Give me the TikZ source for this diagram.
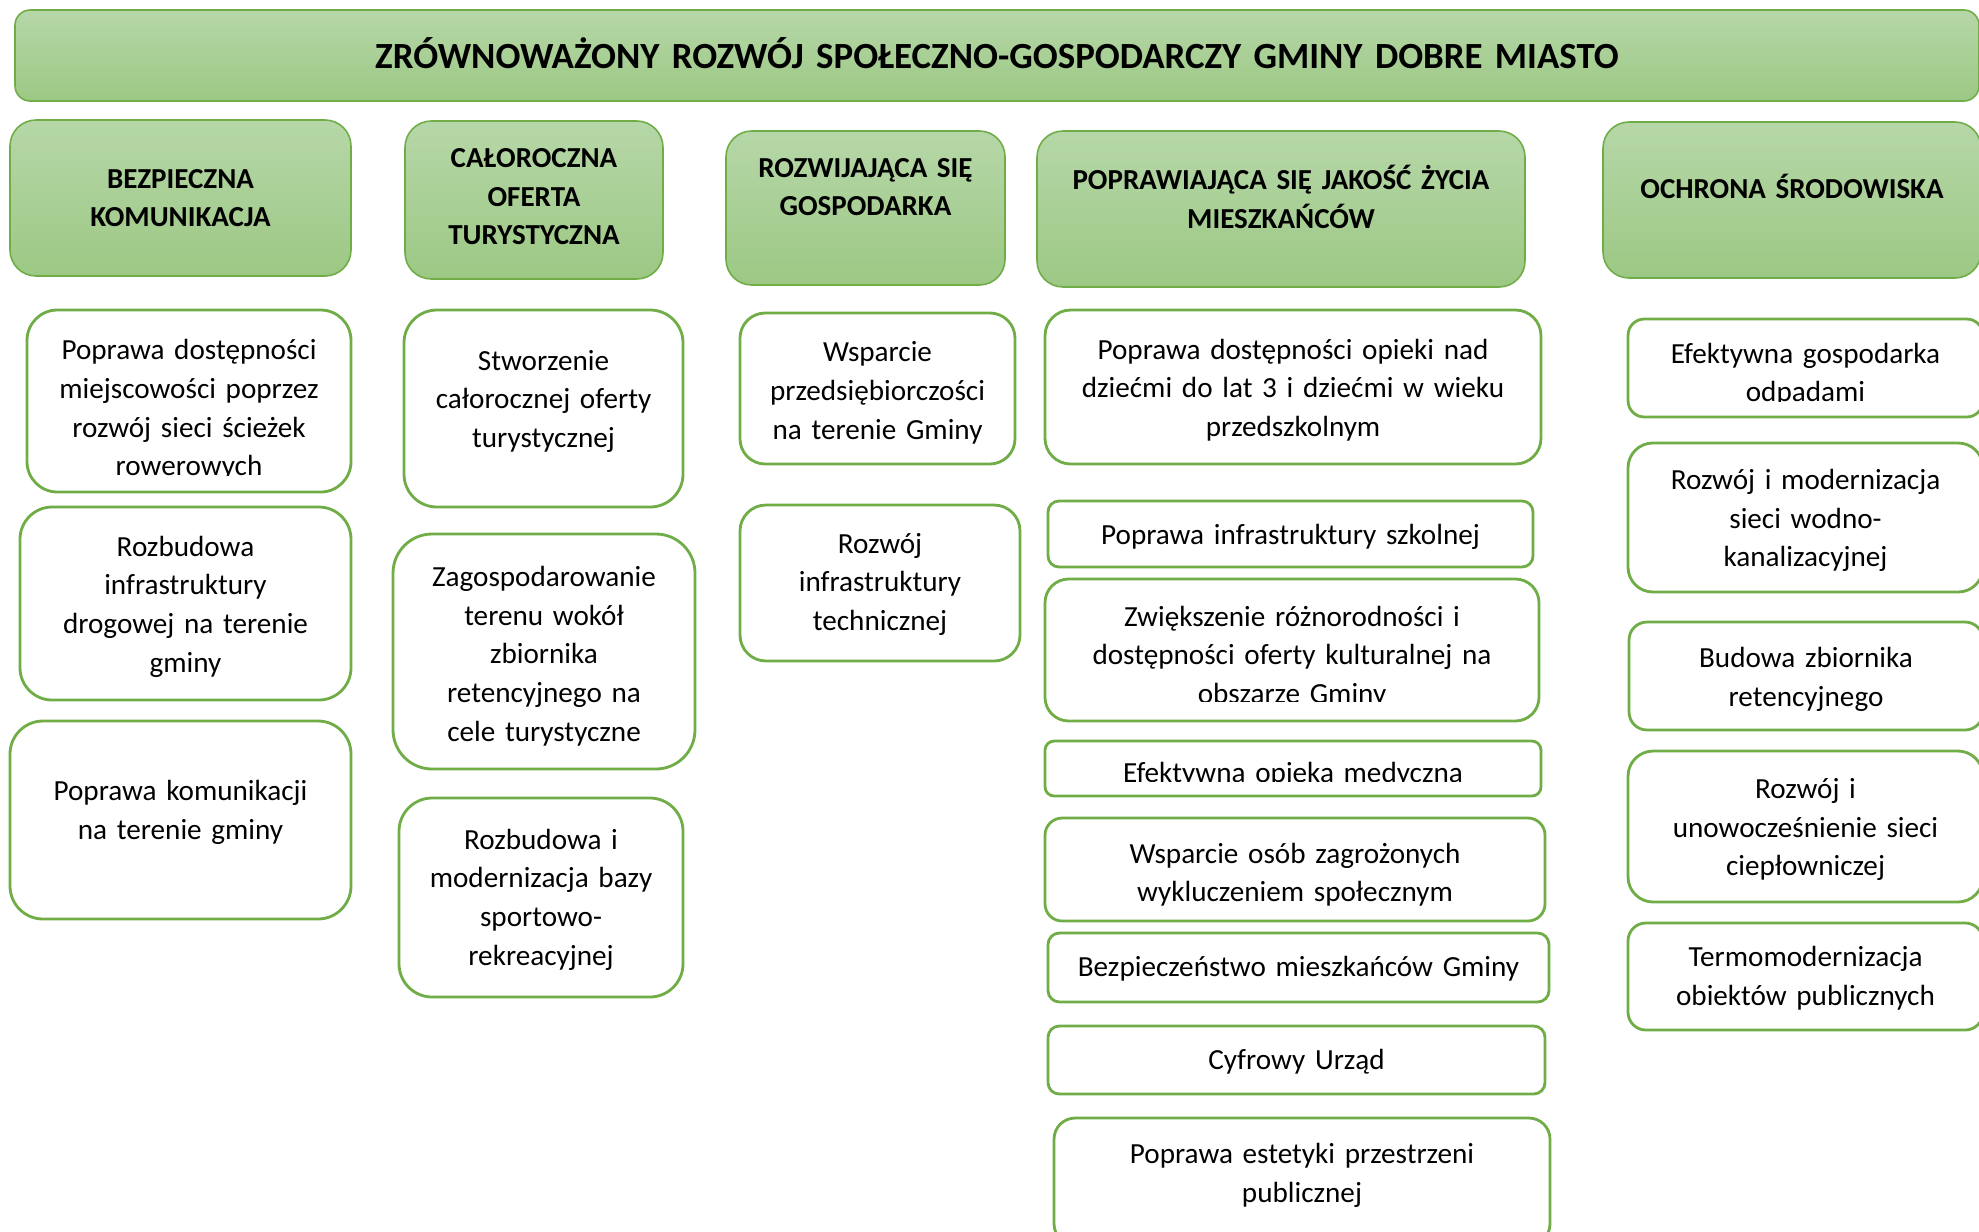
\documentclass[tikz,border=0pt]{standalone}
\usepackage{fontspec}
\setmainfont{Carlito}
\usetikzlibrary{positioning}

\definecolor{greenline}{HTML}{70AD47}
\definecolor{greentop}{HTML}{B6D7A8}
\definecolor{greenbot}{HTML}{9CC884}

\tikzset{
  sz/.code 2 args={%
    \pgfmathsetmacro\bw{#1/10}%
    \pgfmathsetmacro\bh{#2/10}%
    \pgfmathsetmacro\tw{(#1-24)/10}%
    \pgfmathsetmacro\rr{min(#1,#2)/60}%
    \edef\tmp{\noexpand\tikzset{minimum width=\bw mm,minimum height=\bh mm,
      text width=\tw mm,rounded corners=\rr mm}}\tmp},
  lift/.style={execute at end node={\par\vspace{#1}\hrule height 0pt width 0pt}}
}

\begin{document}
\begin{tikzpicture}[x=0.1mm,y=-0.1mm]
  \tikzstyle{nodeT}=[draw=greenline,line width=0.45pt,top color=greentop,bottom color=greenbot,
    font=\fontsize{10.5}{13}\selectfont\bfseries,align=center]
  \tikzstyle{nodeH}=[draw=greenline,line width=0.45pt,top color=greentop,bottom color=greenbot,
    font=\fontsize{8.25}{10.9}\selectfont\bfseries,align=center]
  \tikzstyle{nodeG}=[draw=greenline,line width=0.8pt,fill=white,
    font=\fontsize{8.3}{11}\selectfont,align=center,lift=-1.8pt]
  \tikzstyle{mask}=[fill=white]

  \useasboundingbox (0,0) rectangle (1979,1231);

  \node[nodeT, sz={1964}{91}, lift=1.4pt] (tytul) at (997,55.5) {ZRÓWNOWAŻONY ROZWÓJ SPOŁECZNO-GOSPODARCZY GMINY DOBRE MIASTO};

  % obszary
  \node[nodeH, sz={341}{156}] (komunikacja) at (180.5,198) {BEZPIECZNA\\KOMUNIKACJA};
  \node[nodeH, sz={258}{158}, lift=1.8pt] (turystyka) at (534,200) {CAŁOROCZNA\\OFERTA\\TURYSTYCZNA};
  \node[nodeH, sz={279}{154}, lift=12pt] (gospodarka) at (865.5,208) {ROZWIJAJĄCA SIĘ\\GOSPODARKA};
  \node[nodeH, sz={488}{156}, lift=6.8pt] (jakosc) at (1281,209) {POPRAWIAJĄCA SIĘ JAKOŚĆ ŻYCIA\\MIESZKAŃCÓW};
  \node[nodeH, sz={378}{156}, lift=7.7pt] (srodowisko) at (1792,200) {OCHRONA ŚRODOWISKA};

  % cele - komunikacja
  \node[nodeG, sz={324}{182}, lift=-3.4pt] (sciezki) at (189,401) {Poprawa dostępności\\miejscowości poprzez\\rozwój sieci ścieżek\\rowerowych};
  \node[nodeG, sz={331}{193}] (drogi) at (185.5,603.5) {Rozbudowa\\infrastruktury\\drogowej na terenie\\gminy};
  \node[nodeG, sz={341}{198}, lift=6.3pt] (dojazd) at (180.5,820) {Poprawa komunikacji\\na terenie gminy};

  % cele - turystyka
  \node[nodeG, sz={279}{197}, lift=6pt] (oferta) at (543.5,408.5) {Stworzenie\\całorocznej oferty\\turystycznej};
  \node[nodeG, sz={302}{235}, lift=-0.7pt] (zbiornik) at (544,651.5) {Zagospodarowanie\\terenu wokół\\zbiornika\\retencyjnego na\\cele turystyczne};
  \node[nodeG, sz={284}{199}, lift=0.7pt] (sport) at (541,897.5) {Rozbudowa i\\modernizacja bazy\\sportowo-\\rekreacyjnej};

  % cele - gospodarka
  \node[nodeG, sz={275}{151}, lift=-0.7pt] (przedsiebiorczosc) at (877.5,388.5) {Wsparcie\\przedsiębiorczości\\na terenie Gminy};
  \node[nodeG, sz={280}{156}, lift=1.1pt] (technika) at (880,583) {Rozwój\\infrastruktury\\technicznej};

  % cele - jakosc zycia
  \node[nodeG, sz={496}{154}] (opieka) at (1293,387) {Poprawa dostępności opieki nad\\dziećmi do lat 3 i dziećmi w wieku\\przedszkolnym};
  \node[nodeG, sz={485}{66}] (szkoly) at (1290.5,534) {Poprawa infrastruktury szkolnej};
  \node[nodeG, sz={494}{142}, lift=-2.3pt] (kultura) at (1292,650) {Zwiększenie różnorodności i\\dostępności oferty kulturalnej na\\obszarze Gminy};
  \node[nodeG, sz={496}{55}] (zdrowie) at (1293,768.5) {\raisebox{-1.1pt}[\height][\depth]{Efektywna opieka medyczna}};
  \node[nodeG, sz={500}{103}, lift=-1.1pt] (wykluczenie) at (1295,869.5) {Wsparcie osób zagrożonych\\wykluczeniem społecznym};
  \node[nodeG, sz={501}{69}, lift=1.1pt] (bezpieczenstwo) at (1298.5,967.5) {Bezpieczeństwo mieszkańców Gminy};
  \node[nodeG, sz={497}{68}, lift=1.1pt] (urzad) at (1296.5,1060) {Cyfrowy Urząd};
  \node[nodeG, sz={496}{127}, lift=5.4pt] (estetyka) at (1302,1181.5) {Poprawa estetyki przestrzeni\\publicznej};

  % cele - srodowisko
  \node[nodeG, sz={355}{98}, lift=-2pt] (odpady) at (1805.5,368) {Efektywna gospodarka\\odpadami};
  \node[nodeG, sz={355}{149}] (wodkan) at (1805.5,517.5) {Rozwój i modernizacja\\sieci wodno-\\kanalizacyjnej};
  \node[nodeG, sz={354}{108}] (retencja) at (1806,676) {Budowa zbiornika\\retencyjnego};
  \node[nodeG, sz={355}{151}] (cieplo) at (1805.5,826.5) {Rozwój i\\unowocześnienie sieci\\ciepłowniczej};
  \node[nodeG, sz={355}{107}, lift=0.7pt] (termo) at (1805.5,976.5) {Termomodernizacja\\obiektów publicznych};

  % obciete dolne linie tekstu
  \fill[mask] (100,476) rectangle (280,488);
  \fill[mask] (1150,702) rectangle (1440,716);
  \fill[mask] (1100,782) rectangle (1480,793);
  \fill[mask] (1700,402) rectangle (1910,412);
\end{tikzpicture}
\end{document}
